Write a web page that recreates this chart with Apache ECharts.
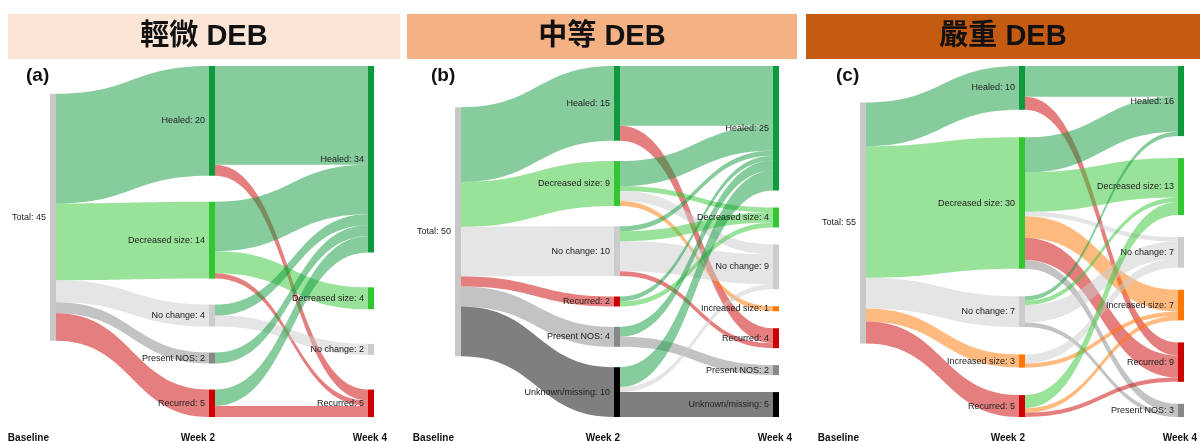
<!DOCTYPE html>
<html>
<head>
<meta charset="utf-8">
<script src="https://cdn.jsdelivr.net/npm/echarts@6/dist/echarts.min.js"></script>
<style>
html,body{margin:0;padding:0;background:#fff;}
#main{width:1200px;height:441px;}
</style>
</head>
<body>
<div id="main"></div>
<script>
// panel headers and column captions
var panelTitles = ['輕微 DEB', '中等 DEB', '嚴重 DEB'];
var panelTags = ['(a)', '(b)', '(c)'];
var timepoints = ['Baseline', 'Week 2', 'Week 4'];

// (a) mild
var mildWeek2 = ['Healed', 'Decreased size', 'No change', 'Present NOS', 'Recurred'];
var mildBaseline = [20, 14, 4, 2, 5];
var mildWeek4 = ['Healed', 'Decreased size', 'No change', 'Recurred'];
var mildFlows = [
  ['Healed', 'Healed', 18], ['Healed', 'Recurred', 2],
  ['Decreased size', 'Healed', 9], ['Decreased size', 'Decreased size', 4], ['Decreased size', 'Recurred', 1],
  ['No change', 'Healed', 2], ['No change', 'No change', 2],
  ['Present NOS', 'Healed', 2],
  ['Recurred', 'Healed', 3], ['Recurred', 'Recurred', 2]
];

// (b) moderate
var modWeek2 = ['Healed', 'Decreased size', 'No change', 'Recurred', 'Present NOS', 'Unknown/missing'];
var modBaseline = [15, 9, 10, 2, 4, 10];
var modWeek4 = ['Healed', 'Decreased size', 'No change', 'Increased size', 'Recurred', 'Present NOS', 'Unknown/missing'];
var modFlows = [
  ['Healed', 'Healed', 12], ['Healed', 'Recurred', 3],
  ['Decreased size', 'Healed', 5], ['Decreased size', 'Decreased size', 1], ['Decreased size', 'No change', 2], ['Decreased size', 'Increased size', 1],
  ['No change', 'Healed', 1], ['No change', 'Decreased size', 2], ['No change', 'No change', 6], ['No change', 'Recurred', 1],
  ['Recurred', 'Healed', 1], ['Recurred', 'Decreased size', 1],
  ['Present NOS', 'Healed', 2], ['Present NOS', 'Present NOS', 2],
  ['Unknown/missing', 'Healed', 4], ['Unknown/missing', 'No change', 1], ['Unknown/missing', 'Unknown/missing', 5]
];

// (c) severe
var sevWeek2 = ['Healed', 'Decreased size', 'No change', 'Increased size', 'Recurred'];
var sevBaseline = [10, 30, 7, 3, 5];
var sevWeek4 = ['Healed', 'Decreased size', 'No change', 'Increased size', 'Recurred', 'Present NOS'];
var sevFlows = [
  ['Healed', 'Healed', 7], ['Healed', 'Recurred', 3],
  ['Decreased size', 'Healed', 8], ['Decreased size', 'Decreased size', 9], ['Decreased size', 'No change', 1],
  ['Decreased size', 'Increased size', 5], ['Decreased size', 'Recurred', 5], ['Decreased size', 'Present NOS', 2],
  ['No change', 'Healed', 1], ['No change', 'Decreased size', 1], ['No change', 'No change', 4], ['No change', 'Present NOS', 1],
  ['Increased size', 'No change', 2], ['Increased size', 'Increased size', 1],
  ['Recurred', 'Decreased size', 3], ['Recurred', 'Increased size', 1], ['Recurred', 'Recurred', 1]
];

var stateColors = {
  'Total': '#c8c8c8',
  'Healed': '#0e9a3c',
  'Decreased size': '#33c633',
  'No change': '#cccccc',
  'Increased size': '#ff7700',
  'Recurred': '#cc0000',
  'Present NOS': '#888888',
  'Unknown/missing': '#000000'
};

var boxes = [
  {left: 50, nodeGap: 26, headX: 8, headW: 392, head: '#fbe5d6'},
  {left: 455, nodeGap: 17, headX: 407, headW: 390, head: '#f4b183'},
  {left: 860, nodeGap: 22, headX: 806, headW: 394, head: '#c55a11'}
];
var sankeyW = 324, sankeyTop = 66, sankeyH = 351;

function sum(arr) { return arr.reduce(function (a, b) { return a + b; }, 0); }

// spread each column over the full height (same node scale as echarts uses),
// then put the single baseline node where its links run straightest
function columnOffsets(cols, gap) {
  var ky = Infinity;
  cols.forEach(function (c) {
    ky = Math.min(ky, (sankeyH - (c.length - 1) * gap) / sum(c));
  });
  var tops = cols.map(function (c) {
    var free = sankeyH - sum(c) * ky;
    var g = c.length > 1 ? free / (c.length - 1) : 0;
    var y = 0;
    return c.map(function (v) { var t = y; y += v * ky + g; return t; });
  });
  var w2 = cols[1], acc = 0, num = 0;
  w2.forEach(function (v, k) {
    var target = tops[1][k] + v * ky / 2;
    var own = (acc + v / 2) * ky;
    num += v * (target - own);
    acc += v;
  });
  var b = num / sum(w2);
  tops[0][0] = Math.max(0, Math.min(sankeyH - sum(w2) * ky, b));
  return tops;
}

function buildSeries(i, week2, baseCounts, week4, flows) {
  var nodes = [], links = [], sums = {};
  flows.forEach(function (f) { sums[f[1]] = (sums[f[1]] || 0) + f[2]; });
  var w4Values = week4.map(function (s) { return sums[s]; });
  var total = sum(baseCounts);
  var tops = columnOffsets([[total], baseCounts, w4Values], boxes[i].nodeGap);

  nodes.push({name: 'Total@0', value: total, localY: tops[0][0] / sankeyH, itemStyle: {color: stateColors['Total']}});
  week2.forEach(function (s, k) {
    nodes.push({name: s + '@2', value: baseCounts[k], localY: tops[1][k] / sankeyH, itemStyle: {color: stateColors[s]}});
    links.push({source: 'Total@0', target: s + '@2', value: baseCounts[k]});
  });
  week4.forEach(function (s, k) {
    nodes.push({name: s + '@4', value: w4Values[k], localY: tops[2][k] / sankeyH, itemStyle: {color: stateColors[s]}});
  });
  flows.forEach(function (f) {
    links.push({source: f[0] + '@2', target: f[1] + '@4', value: f[2]});
  });
  return {
    type: 'sankey',
    left: boxes[i].left,
    top: sankeyTop,
    width: sankeyW,
    height: sankeyH,
    nodeWidth: 6,
    nodeGap: boxes[i].nodeGap,
    layoutIterations: 0,
    draggable: false,
    emphasis: {disabled: true},
    data: nodes,
    links: links,
    label: {
      position: 'left',
      distance: 4,
      fontSize: 9,
      color: '#222',
      fontFamily: 'Arial, "Liberation Sans", sans-serif',
      formatter: function (p) { return p.name.split('@')[0] + ': ' + p.value; }
    },
    itemStyle: {borderWidth: 0},
    lineStyle: {color: 'target', opacity: 0.5, curveness: 0.5}
  };
}

var graphics = [];
boxes.forEach(function (b, i) {
  graphics.push({type: 'rect', shape: {x: b.headX, y: 14, width: b.headW, height: 45}, style: {fill: b.head}, silent: true});
  graphics.push({type: 'text', x: b.headX + b.headW / 2, y: 37, style: {
    text: panelTitles[i], fontSize: 29, fontWeight: 'bold', fontFamily: 'Arial, "Liberation Sans", "Noto Sans CJK TC", sans-serif',
    fill: '#111', align: 'center', verticalAlign: 'middle', textAlign: 'center', textVerticalAlign: 'middle'}});
  graphics.push({type: 'text', x: b.left - 24, y: 76, style: {
    text: panelTags[i], fontSize: 19, fontWeight: 'bold', fontFamily: 'Arial, "Liberation Sans", sans-serif',
    fill: '#111', align: 'left', verticalAlign: 'middle', textAlign: 'left', textVerticalAlign: 'middle'}});
  var capX = [b.left - 1, b.left + sankeyW / 2 + 3, b.left + sankeyW + 13];
  timepoints.forEach(function (t, k) {
    graphics.push({type: 'text', x: capX[k], y: 433, style: {
      text: t, fontSize: 10, fontWeight: 'bold', fontFamily: 'Arial, "Liberation Sans", sans-serif',
      fill: '#111', align: 'right', verticalAlign: 'top', textAlign: 'right', textVerticalAlign: 'top'}});
  });
});

var chart = echarts.init(document.getElementById('main'), null, {renderer: 'canvas'});
chart.setOption({
  animation: false,
  backgroundColor: '#fff',
  graphic: graphics,
  series: [
    buildSeries(0, mildWeek2, mildBaseline, mildWeek4, mildFlows),
    buildSeries(1, modWeek2, modBaseline, modWeek4, modFlows),
    buildSeries(2, sevWeek2, sevBaseline, sevWeek4, sevFlows)
  ]
});
</script>
</body>
</html>
